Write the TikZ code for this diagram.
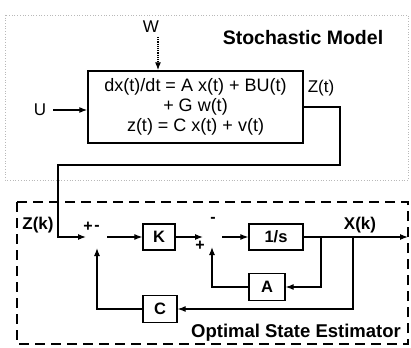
\documentclass[tikz,border=0pt]{standalone}
\usepackage{fontspec}
\setmainfont{Liberation Sans}
\usetikzlibrary{arrows.meta}
\tikzset{
  arr/.style={line width=1.2pt, -{Latex[length=8pt,width=6pt]}},
  ln/.style={line width=1.2pt},
  blk/.style={draw, line width=1.3pt, inner sep=0pt, font=\fontsize{16.5}{18}\selectfont\bfseries},
  lbl/.style={inner sep=0pt, font=\fontsize{17}{19}\selectfont},
  blbl/.style={inner sep=0pt, font=\fontsize{17}{19}\selectfont\bfseries},
  sgn/.style={inner sep=0pt, font=\fontsize{16}{18}\selectfont\bfseries},
}
\begin{document}
\begin{tikzpicture}[x=1pt,y=-1pt]
\useasboundingbox (0,0) rectangle (411,347);
\fill[white] (0,0) rectangle (411,347);
% faint frame of the stochastic model
\draw[gray!55, dotted, line width=0.7pt] (5,15) rectangle (408,180);
% title
\node[inner sep=0pt, font=\fontsize{19.5}{22}\selectfont\bfseries] (title) at (303,38) {Stochastic Model};
% model box
\node[draw, line width=1.4pt, minimum width=215pt, minimum height=72pt, inner sep=0pt,
      align=center, font=\fontsize{18}{20}\selectfont] (model) at (195.5,107)
  {dx(t)/dt = A x(t) + BU(t)\\+ G w(t)\\z(t) = C x(t) + v(t)};
\node[lbl] (W) at (151,27) {W};
\coordinate (wst) at (158,37);
\draw[arr, densely dotted] (wst) -- (wst |- model.north);
\node[lbl] (U) at (40,110) {U};
\coordinate (ust) at (53,110);
\draw[arr] (ust) -- (ust -| model.west);
\node[lbl] (Zt) at (321,88) {Z(t)};
% estimator frame
\draw[line width=1.6pt, dash pattern=on 10pt off 6pt] (17,202) rectangle (408,344);
\node[inner sep=0pt, font=\fontsize{18.5}{21}\selectfont\bfseries] (est) at (296,333) {Optimal State Estimator};
\node[blbl] (Zk) at (38,225) {Z(k)};
\node[blbl] (Xk) at (360,225) {X(k)};
% blocks
\coordinate (j1) at (97,237);
\coordinate (j2) at (212,237);
\node[blk, minimum width=32pt, minimum height=26pt] (K) at (159,237) {K};
\node[blk, minimum width=54pt, minimum height=26pt] (S) at (276,237) {1/s};
\node[blk, minimum width=36pt, minimum height=27pt] (A) at (267,287) {A};
\node[blk, minimum width=34pt, minimum height=27pt] (C) at (160,309) {C};
% signs
\node[sgn] (p1) at (88,227) {+};
\node[sgn] (m1) at (97,228) {-};
\node[sgn] (p2) at (200,246) {+};
\node[sgn] (m2) at (213,220) {-};
% connectors
\coordinate (c1) at (340,165);
\coordinate (c2) at (58,165);
\draw[arr, shorten >=11pt] (model.east) -| (c1) -- (c2) |- (j1);
\draw[arr] ([xshift=10pt]j1) -- (K.west);
\draw[arr, shorten >=9pt] (K.east) -- (j2);
\draw[arr] ([xshift=10pt]j2) -- (S.west);
\coordinate (out) at (408,237);
\draw[arr] (S.east) -- (out);
\coordinate (bA) at (321,237);
\draw[arr] (bA) |- (A.east);
\draw[arr, shorten >=10pt] (A.west) -| (j2);
\coordinate (bC) at (353,237);
\draw[arr] (bC) |- (C.east);
\draw[arr, shorten >=11pt] (C.west) -| (j1);
\end{tikzpicture}
\end{document}
